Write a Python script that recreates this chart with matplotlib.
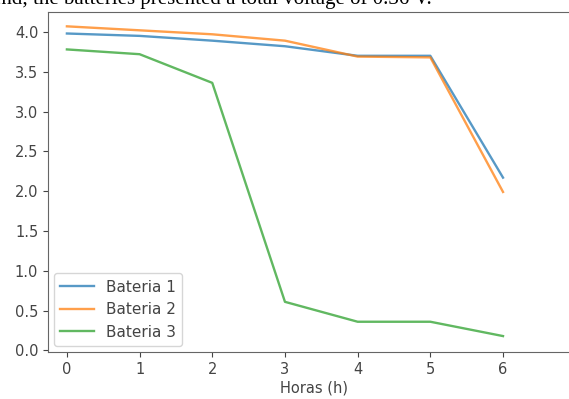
import matplotlib.pyplot as plt

# Voltage readings per hour
horas = [0, 1, 2, 3, 4, 5, 6]
bateria_1 = [3.98, 3.95, 3.89, 3.82, 3.70, 3.70, 2.17]
bateria_2 = [4.07, 4.02, 3.97, 3.89, 3.69, 3.68, 1.99]
bateria_3 = [3.78, 3.72, 3.36, 0.61, 0.36, 0.36, 0.18]

W, H = 569, 399
fig = plt.figure(figsize=(W / 100, H / 100), dpi=100)

# caption line of the surrounding paper, cut off at the top of the screenshot
fig.text(-0.014, 1 - 4 / H, "end, the batteries presented a total voltage of 0.36 V.",
         family="Liberation Serif", fontsize=15, va="baseline", ha="left")

# axes run past the right edge, so no right spine shows
left, right, top, bottom = 48, 580, 12, 352
ax = fig.add_axes([left / W, 1 - bottom / H, (right - left) / W, (bottom - top) / H])

ax.plot(horas, bateria_1, color="#1f77b4", lw=1.7, alpha=0.75, label="Bateria 1")
ax.plot(horas, bateria_2, color="#ff7f0e", lw=1.7, alpha=0.75, label="Bateria 2")
ax.plot(horas, bateria_3, color="#2ca02c", lw=1.7, alpha=0.75, label="Bateria 3")

ax.set_xlim(-0.26, 6 + (right - 503) / 72.7)
ax.set_ylim(-0.02, 4.25)
ax.set_xticks(horas)
ax.set_yticks([0.0, 0.5, 1.0, 1.5, 2.0, 2.5, 3.0, 3.5, 4.0])
ax.tick_params(labelsize=10.5, colors="#444444")
ax.set_xlabel("Horas (h)", fontsize=10.5, color="#444444", labelpad=3)
for s in ax.spines.values():
    s.set_color("#666666")

ax.legend(loc="lower left", fontsize=11, labelcolor="#444444",
          handlelength=2.2, borderaxespad=0.4)

fig.savefig("out.png", dpi=100)
